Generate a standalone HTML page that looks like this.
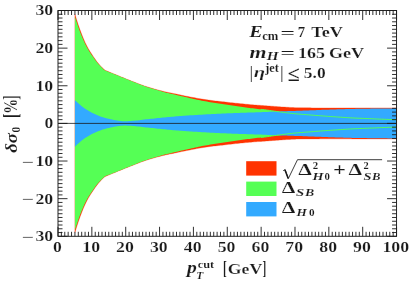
<!DOCTYPE html>
<html><head><meta charset="utf-8"><title>plot</title><style>html,body{margin:0;padding:0;background:#fff}svg{display:block;will-change:transform}</style></head><body>
<svg width="415" height="284" viewBox="0 0 415 284">
<rect width="415" height="284" fill="#fff"/>
<path d="M74.93 14.26 L76.62 19.81 L78.31 25.01 L80.01 29.86 L81.70 34.37 L83.39 38.54 L85.08 42.38 L86.78 45.87 L88.47 48.94 L90.16 51.68 L91.85 54.31 L93.55 56.88 L95.24 59.34 L96.93 61.65 L98.63 63.75 L100.32 65.67 L102.01 67.46 L103.70 69.08 L105.06 70.26 L105.40 70.40 L107.09 71.10 L108.78 71.80 L110.48 72.49 L112.17 73.19 L113.86 73.88 L115.55 74.58 L117.25 75.27 L118.94 75.96 L120.63 76.65 L122.32 77.35 L124.02 78.04 L125.71 78.73 L127.40 79.41 L129.10 80.08 L130.79 80.75 L132.48 81.41 L134.17 82.08 L135.87 82.74 L137.56 83.40 L139.25 84.05 L140.94 84.68 L142.64 85.29 L144.33 85.88 L146.02 86.44 L147.72 86.98 L149.41 87.51 L151.10 88.03 L152.79 88.53 L154.49 89.02 L156.18 89.49 L157.87 89.95 L159.56 90.40 L161.26 90.83 L162.95 91.25 L164.64 91.65 L166.34 92.03 L168.03 92.39 L169.72 92.74 L171.41 93.08 L173.11 93.42 L174.80 93.76 L176.49 94.12 L178.19 94.48 L179.88 94.84 L181.57 95.20 L183.26 95.54 L184.96 95.88 L186.65 96.22 L188.34 96.56 L190.03 96.89 L191.73 97.22 L193.42 97.55 L195.11 97.87 L196.81 98.18 L198.50 98.48 L200.19 98.77 L201.88 99.05 L203.58 99.32 L205.27 99.58 L206.96 99.82 L208.65 100.06 L210.35 100.28 L212.04 100.50 L213.73 100.71 L215.43 100.91 L217.12 101.10 L218.81 101.28 L220.50 101.47 L222.20 101.67 L223.89 101.87 L225.58 102.06 L227.28 102.26 L228.97 102.45 L230.66 102.63 L232.35 102.82 L234.05 103.00 L235.74 103.18 L237.43 103.35 L239.12 103.53 L240.82 103.70 L242.51 103.87 L244.20 104.03 L245.90 104.20 L247.59 104.35 L249.28 104.51 L250.97 104.66 L252.67 104.80 L254.36 104.94 L256.05 105.07 L257.74 105.19 L259.44 105.31 L261.13 105.42 L262.82 105.54 L264.52 105.65 L266.21 105.77 L267.90 105.90 L269.59 106.02 L271.29 106.15 L272.98 106.27 L274.67 106.39 L276.36 106.52 L278.06 106.64 L279.75 106.77 L281.44 106.89 L283.14 107.00 L284.83 107.10 L286.52 107.21 L288.21 107.31 L289.91 107.40 L291.60 107.49 L293.29 107.56 L294.99 107.63 L296.68 107.68 L298.37 107.72 L300.06 107.75 L301.76 107.78 L303.45 107.80 L305.14 107.82 L306.83 107.84 L308.53 107.85 L310.22 107.86 L311.91 107.88 L313.61 107.89 L315.30 107.90 L316.99 107.91 L318.68 107.92 L320.38 107.93 L322.07 107.93 L323.76 107.94 L325.45 107.95 L327.15 107.95 L328.84 107.95 L330.53 107.96 L332.23 107.95 L333.92 107.95 L335.61 107.95 L337.30 107.95 L339.00 107.94 L340.69 107.94 L342.38 107.93 L344.07 107.93 L345.77 107.93 L347.46 107.93 L349.15 107.93 L350.85 107.93 L352.54 107.92 L354.23 107.92 L355.92 107.92 L357.62 107.91 L359.31 107.91 L361.00 107.90 L362.69 107.89 L364.39 107.89 L366.08 107.88 L367.77 107.88 L369.47 107.88 L371.16 107.88 L372.85 107.88 L374.54 107.88 L376.24 107.88 L377.93 107.89 L379.62 107.89 L381.32 107.89 L383.01 107.89 L384.70 107.89 L386.39 107.90 L388.09 107.90 L389.78 107.89 L391.47 107.89 L393.16 107.89 L394.86 107.89 L396.55 107.88 L396.55 138.92 L394.86 138.91 L393.16 138.91 L391.47 138.91 L389.78 138.91 L388.09 138.90 L386.39 138.90 L384.70 138.91 L383.01 138.91 L381.32 138.91 L379.62 138.91 L377.93 138.91 L376.24 138.92 L374.54 138.92 L372.85 138.92 L371.16 138.92 L369.47 138.92 L367.77 138.92 L366.08 138.92 L364.39 138.91 L362.69 138.91 L361.00 138.90 L359.31 138.89 L357.62 138.89 L355.92 138.88 L354.23 138.88 L352.54 138.88 L350.85 138.87 L349.15 138.87 L347.46 138.87 L345.77 138.87 L344.07 138.87 L342.38 138.87 L340.69 138.86 L339.00 138.86 L337.30 138.85 L335.61 138.85 L333.92 138.85 L332.23 138.85 L330.53 138.84 L328.84 138.85 L327.15 138.85 L325.45 138.85 L323.76 138.86 L322.07 138.87 L320.38 138.87 L318.68 138.88 L316.99 138.89 L315.30 138.90 L313.61 138.91 L311.91 138.92 L310.22 138.94 L308.53 138.95 L306.83 138.96 L305.14 138.98 L303.45 139.00 L301.76 139.02 L300.06 139.05 L298.37 139.08 L296.68 139.12 L294.99 139.17 L293.29 139.24 L291.60 139.31 L289.91 139.40 L288.21 139.49 L286.52 139.59 L284.83 139.70 L283.14 139.80 L281.44 139.91 L279.75 140.03 L278.06 140.16 L276.36 140.28 L274.67 140.41 L272.98 140.53 L271.29 140.65 L269.59 140.78 L267.90 140.90 L266.21 141.03 L264.52 141.15 L262.82 141.26 L261.13 141.38 L259.44 141.49 L257.74 141.61 L256.05 141.73 L254.36 141.86 L252.67 142.00 L250.97 142.14 L249.28 142.29 L247.59 142.45 L245.90 142.60 L244.20 142.77 L242.51 142.93 L240.82 143.10 L239.12 143.27 L237.43 143.45 L235.74 143.62 L234.05 143.80 L232.35 143.98 L230.66 144.17 L228.97 144.35 L227.28 144.54 L225.58 144.74 L223.89 144.93 L222.20 145.13 L220.50 145.33 L218.81 145.52 L217.12 145.70 L215.43 145.89 L213.73 146.09 L212.04 146.30 L210.35 146.52 L208.65 146.74 L206.96 146.98 L205.27 147.22 L203.58 147.48 L201.88 147.75 L200.19 148.03 L198.50 148.32 L196.81 148.62 L195.11 148.93 L193.42 149.25 L191.73 149.58 L190.03 149.91 L188.34 150.24 L186.65 150.58 L184.96 150.92 L183.26 151.26 L181.57 151.60 L179.88 151.96 L178.19 152.32 L176.49 152.68 L174.80 153.04 L173.11 153.38 L171.41 153.72 L169.72 154.06 L168.03 154.41 L166.34 154.77 L164.64 155.15 L162.95 155.55 L161.26 155.97 L159.56 156.40 L157.87 156.85 L156.18 157.31 L154.49 157.78 L152.79 158.27 L151.10 158.77 L149.41 159.29 L147.72 159.82 L146.02 160.36 L144.33 160.92 L142.64 161.51 L140.94 162.12 L139.25 162.75 L137.56 163.40 L135.87 164.06 L134.17 164.72 L132.48 165.39 L130.79 166.05 L129.10 166.72 L127.40 167.39 L125.71 168.07 L124.02 168.76 L122.32 169.45 L120.63 170.15 L118.94 170.84 L117.25 171.53 L115.55 172.22 L113.86 172.92 L112.17 173.61 L110.48 174.31 L108.78 175.00 L107.09 175.70 L105.40 176.40 L105.06 176.54 L103.70 177.72 L102.01 179.34 L100.32 181.13 L98.63 183.05 L96.93 185.15 L95.24 187.46 L93.55 189.92 L91.85 192.49 L90.16 195.12 L88.47 197.86 L86.78 200.93 L85.08 204.42 L83.39 208.26 L81.70 212.43 L80.01 216.94 L78.31 221.79 L76.62 226.99 L74.93 232.54Z" fill="#ff3300" stroke="#ff3300" stroke-width="0.3"/>
<path d="M74.93 16.77 L76.62 22.09 L78.31 27.07 L80.01 31.72 L81.70 36.04 L83.39 40.04 L85.08 43.72 L86.78 47.07 L88.47 50.00 L90.16 52.63 L91.85 55.14 L93.55 57.61 L95.24 59.98 L96.93 62.21 L98.63 64.24 L100.32 66.10 L102.01 67.83 L103.70 69.40 L105.06 70.55 L105.40 70.68 L107.09 71.33 L108.78 72.00 L110.48 72.66 L112.17 73.33 L113.86 74.00 L115.55 74.67 L117.25 75.35 L118.94 76.03 L120.63 76.72 L122.32 77.40 L124.02 78.09 L125.71 78.78 L127.40 79.47 L129.10 80.15 L130.79 80.82 L132.48 81.49 L134.17 82.17 L135.87 82.85 L137.56 83.52 L139.25 84.18 L140.94 84.83 L142.64 85.47 L144.33 86.08 L146.02 86.67 L147.72 87.23 L149.41 87.78 L151.10 88.32 L152.79 88.85 L154.49 89.37 L156.18 89.87 L157.87 90.37 L159.56 90.85 L161.26 91.32 L162.95 91.78 L164.64 92.22 L166.34 92.63 L168.03 93.03 L169.72 93.42 L171.41 93.81 L173.11 94.19 L174.80 94.58 L176.49 94.98 L178.19 95.39 L179.88 95.80 L181.57 96.20 L183.26 96.59 L184.96 96.98 L186.65 97.37 L188.34 97.75 L190.03 98.14 L191.73 98.52 L193.42 98.90 L195.11 99.27 L196.81 99.64 L198.50 99.99 L200.19 100.34 L201.88 100.68 L203.58 101.01 L205.27 101.32 L206.96 101.62 L208.65 101.92 L210.35 102.20 L212.04 102.48 L213.73 102.75 L215.43 103.01 L217.12 103.26 L218.81 103.50 L220.50 103.75 L222.20 104.01 L223.89 104.28 L225.58 104.53 L227.28 104.79 L228.97 105.05 L230.66 105.30 L232.35 105.55 L234.05 105.80 L235.74 106.04 L237.43 106.28 L239.12 106.52 L240.82 106.76 L242.51 107.00 L244.20 107.23 L245.90 107.47 L247.59 107.70 L249.28 107.92 L250.97 108.14 L252.67 108.36 L254.36 108.58 L256.05 108.78 L257.74 108.98 L259.44 109.17 L261.13 109.36 L262.82 109.55 L264.52 109.76 L266.21 109.97 L267.90 110.21 L269.59 110.46 L271.29 110.71 L272.98 110.96 L274.67 111.21 L276.36 111.44 L278.06 111.67 L279.75 111.90 L281.44 112.13 L283.14 112.35 L284.83 112.56 L286.52 112.78 L288.21 112.99 L289.91 113.20 L291.60 113.40 L293.29 113.59 L294.99 113.76 L296.68 113.92 L298.37 114.06 L300.06 114.20 L301.76 114.33 L303.45 114.46 L305.14 114.59 L306.83 114.71 L308.53 114.84 L310.22 114.98 L311.91 115.11 L313.61 115.24 L315.30 115.38 L316.99 115.51 L318.68 115.64 L320.38 115.77 L322.07 115.90 L323.76 116.02 L325.45 116.15 L327.15 116.27 L328.84 116.39 L330.53 116.51 L332.23 116.63 L333.92 116.74 L335.61 116.86 L337.30 116.97 L339.00 117.08 L340.69 117.20 L342.38 117.31 L344.07 117.43 L345.77 117.54 L347.46 117.65 L349.15 117.76 L350.85 117.86 L352.54 117.95 L354.23 118.04 L355.92 118.12 L357.62 118.19 L359.31 118.25 L361.00 118.31 L362.69 118.37 L364.39 118.43 L366.08 118.49 L367.77 118.56 L369.47 118.63 L371.16 118.71 L372.85 118.78 L374.54 118.86 L376.24 118.94 L377.93 119.02 L379.62 119.10 L381.32 119.17 L383.01 119.24 L384.70 119.31 L386.39 119.37 L388.09 119.43 L389.78 119.49 L391.47 119.53 L393.16 119.57 L394.86 119.61 L396.55 119.64 L396.55 127.16 L394.86 127.19 L393.16 127.23 L391.47 127.27 L389.78 127.31 L388.09 127.37 L386.39 127.43 L384.70 127.49 L383.01 127.56 L381.32 127.63 L379.62 127.70 L377.93 127.78 L376.24 127.86 L374.54 127.94 L372.85 128.02 L371.16 128.09 L369.47 128.17 L367.77 128.24 L366.08 128.31 L364.39 128.37 L362.69 128.43 L361.00 128.49 L359.31 128.55 L357.62 128.61 L355.92 128.68 L354.23 128.76 L352.54 128.85 L350.85 128.94 L349.15 129.04 L347.46 129.15 L345.77 129.26 L344.07 129.37 L342.38 129.49 L340.69 129.60 L339.00 129.72 L337.30 129.83 L335.61 129.94 L333.92 130.06 L332.23 130.17 L330.53 130.29 L328.84 130.41 L327.15 130.53 L325.45 130.65 L323.76 130.78 L322.07 130.90 L320.38 131.03 L318.68 131.16 L316.99 131.29 L315.30 131.42 L313.61 131.56 L311.91 131.69 L310.22 131.82 L308.53 131.96 L306.83 132.09 L305.14 132.21 L303.45 132.34 L301.76 132.47 L300.06 132.60 L298.37 132.74 L296.68 132.88 L294.99 133.04 L293.29 133.21 L291.60 133.40 L289.91 133.60 L288.21 133.81 L286.52 134.02 L284.83 134.24 L283.14 134.45 L281.44 134.67 L279.75 134.90 L278.06 135.13 L276.36 135.36 L274.67 135.59 L272.98 135.84 L271.29 136.09 L269.59 136.34 L267.90 136.59 L266.21 136.83 L264.52 137.04 L262.82 137.25 L261.13 137.44 L259.44 137.63 L257.74 137.82 L256.05 138.02 L254.36 138.22 L252.67 138.44 L250.97 138.66 L249.28 138.88 L247.59 139.10 L245.90 139.33 L244.20 139.57 L242.51 139.80 L240.82 140.04 L239.12 140.28 L237.43 140.52 L235.74 140.76 L234.05 141.00 L232.35 141.25 L230.66 141.50 L228.97 141.75 L227.28 142.01 L225.58 142.27 L223.89 142.52 L222.20 142.79 L220.50 143.05 L218.81 143.30 L217.12 143.54 L215.43 143.79 L213.73 144.05 L212.04 144.32 L210.35 144.60 L208.65 144.88 L206.96 145.18 L205.27 145.48 L203.58 145.79 L201.88 146.12 L200.19 146.46 L198.50 146.81 L196.81 147.16 L195.11 147.53 L193.42 147.90 L191.73 148.28 L190.03 148.66 L188.34 149.05 L186.65 149.43 L184.96 149.82 L183.26 150.21 L181.57 150.60 L179.88 151.00 L178.19 151.41 L176.49 151.82 L174.80 152.22 L173.11 152.61 L171.41 152.99 L169.72 153.38 L168.03 153.77 L166.34 154.17 L164.64 154.58 L162.95 155.02 L161.26 155.48 L159.56 155.95 L157.87 156.43 L156.18 156.93 L154.49 157.43 L152.79 157.95 L151.10 158.48 L149.41 159.02 L147.72 159.57 L146.02 160.13 L144.33 160.72 L142.64 161.33 L140.94 161.97 L139.25 162.62 L137.56 163.28 L135.87 163.95 L134.17 164.63 L132.48 165.31 L130.79 165.98 L129.10 166.65 L127.40 167.33 L125.71 168.02 L124.02 168.71 L122.32 169.40 L120.63 170.08 L118.94 170.77 L117.25 171.45 L115.55 172.13 L113.86 172.80 L112.17 173.47 L110.48 174.14 L108.78 174.80 L107.09 175.47 L105.40 176.12 L105.06 176.25 L103.70 177.40 L102.01 178.97 L100.32 180.70 L98.63 182.56 L96.93 184.59 L95.24 186.82 L93.55 189.19 L91.85 191.66 L90.16 194.17 L88.47 196.80 L86.78 199.73 L85.08 203.08 L83.39 206.76 L81.70 210.76 L80.01 215.08 L78.31 219.73 L76.62 224.71 L74.93 230.03Z" fill="#55ff55"/>
<path d="M74.93 100.14 L76.62 101.80 L78.31 103.37 L80.01 104.85 L81.70 106.23 L83.39 107.52 L85.08 108.71 L86.78 109.82 L88.47 110.84 L90.16 111.80 L91.85 112.69 L93.55 113.54 L95.24 114.34 L96.93 115.08 L98.63 115.76 L100.32 116.39 L102.01 116.97 L103.70 117.51 L105.06 117.91 L105.40 118.00 L107.09 118.45 L108.78 118.87 L110.48 119.26 L112.17 119.62 L113.86 119.96 L115.55 120.29 L117.25 120.59 L118.94 120.85 L120.63 121.02 L122.32 121.16 L124.02 121.25 L125.71 121.24 L127.40 121.15 L129.10 121.04 L130.79 120.93 L132.48 120.81 L134.17 120.69 L135.87 120.54 L137.56 120.39 L139.25 120.20 L140.94 119.97 L142.64 119.74 L144.33 119.52 L146.02 119.35 L147.72 119.19 L149.41 119.03 L151.10 118.86 L152.79 118.68 L154.49 118.50 L156.18 118.31 L157.87 118.12 L159.56 117.94 L161.26 117.76 L162.95 117.59 L164.64 117.43 L166.34 117.27 L168.03 117.11 L169.72 116.95 L171.41 116.80 L173.11 116.65 L174.80 116.50 L176.49 116.36 L178.19 116.22 L179.88 116.08 L181.57 115.95 L183.26 115.82 L184.96 115.70 L186.65 115.58 L188.34 115.47 L190.03 115.36 L191.73 115.25 L193.42 115.15 L195.11 115.05 L196.81 114.95 L198.50 114.85 L200.19 114.75 L201.88 114.65 L203.58 114.55 L205.27 114.46 L206.96 114.36 L208.65 114.27 L210.35 114.17 L212.04 114.08 L213.73 113.99 L215.43 113.91 L217.12 113.82 L218.81 113.74 L220.50 113.66 L222.20 113.58 L223.89 113.51 L225.58 113.43 L227.28 113.36 L228.97 113.29 L230.66 113.22 L232.35 113.16 L234.05 113.09 L235.74 113.03 L237.43 112.96 L239.12 112.90 L240.82 112.85 L242.51 112.79 L244.20 112.73 L245.90 112.68 L247.59 112.62 L249.28 112.57 L250.97 112.51 L252.67 112.46 L254.36 112.40 L256.05 112.34 L257.74 112.29 L259.44 112.23 L261.13 112.18 L262.82 112.12 L264.52 112.05 L266.21 111.98 L267.90 111.90 L269.59 111.81 L271.29 111.71 L272.98 111.62 L274.67 111.55 L276.36 111.48 L278.06 111.43 L279.75 111.38 L281.44 111.33 L283.14 111.28 L284.83 111.23 L286.52 111.18 L288.21 111.12 L289.91 111.07 L291.60 111.02 L293.29 110.97 L294.99 110.91 L296.68 110.86 L298.37 110.80 L300.06 110.74 L301.76 110.68 L303.45 110.62 L305.14 110.55 L306.83 110.49 L308.53 110.42 L310.22 110.35 L311.91 110.28 L313.61 110.21 L315.30 110.14 L316.99 110.07 L318.68 110.00 L320.38 109.94 L322.07 109.87 L323.76 109.81 L325.45 109.76 L327.15 109.70 L328.84 109.64 L330.53 109.58 L332.23 109.52 L333.92 109.46 L335.61 109.40 L337.30 109.34 L339.00 109.29 L340.69 109.23 L342.38 109.18 L344.07 109.13 L345.77 109.08 L347.46 109.04 L349.15 108.99 L350.85 108.95 L352.54 108.91 L354.23 108.88 L355.92 108.85 L357.62 108.82 L359.31 108.79 L361.00 108.76 L362.69 108.73 L364.39 108.70 L366.08 108.68 L367.77 108.65 L369.47 108.63 L371.16 108.60 L372.85 108.58 L374.54 108.56 L376.24 108.54 L377.93 108.52 L379.62 108.50 L381.32 108.48 L383.01 108.46 L384.70 108.44 L386.39 108.43 L388.09 108.41 L389.78 108.40 L391.47 108.38 L393.16 108.37 L394.86 108.36 L396.55 108.35 L396.55 138.45 L394.86 138.44 L393.16 138.43 L391.47 138.42 L389.78 138.40 L388.09 138.39 L386.39 138.37 L384.70 138.36 L383.01 138.34 L381.32 138.32 L379.62 138.30 L377.93 138.28 L376.24 138.26 L374.54 138.24 L372.85 138.22 L371.16 138.20 L369.47 138.17 L367.77 138.15 L366.08 138.12 L364.39 138.10 L362.69 138.07 L361.00 138.04 L359.31 138.01 L357.62 137.98 L355.92 137.95 L354.23 137.92 L352.54 137.89 L350.85 137.85 L349.15 137.81 L347.46 137.76 L345.77 137.72 L344.07 137.67 L342.38 137.62 L340.69 137.57 L339.00 137.51 L337.30 137.46 L335.61 137.40 L333.92 137.34 L332.23 137.28 L330.53 137.22 L328.84 137.16 L327.15 137.10 L325.45 137.04 L323.76 136.99 L322.07 136.93 L320.38 136.86 L318.68 136.80 L316.99 136.73 L315.30 136.66 L313.61 136.59 L311.91 136.52 L310.22 136.45 L308.53 136.38 L306.83 136.31 L305.14 136.25 L303.45 136.18 L301.76 136.12 L300.06 136.06 L298.37 136.00 L296.68 135.94 L294.99 135.89 L293.29 135.83 L291.60 135.78 L289.91 135.73 L288.21 135.68 L286.52 135.62 L284.83 135.57 L283.14 135.52 L281.44 135.47 L279.75 135.42 L278.06 135.37 L276.36 135.32 L274.67 135.25 L272.98 135.18 L271.29 135.09 L269.59 134.99 L267.90 134.90 L266.21 134.82 L264.52 134.75 L262.82 134.68 L261.13 134.62 L259.44 134.57 L257.74 134.51 L256.05 134.46 L254.36 134.40 L252.67 134.34 L250.97 134.29 L249.28 134.23 L247.59 134.18 L245.90 134.12 L244.20 134.07 L242.51 134.01 L240.82 133.95 L239.12 133.90 L237.43 133.84 L235.74 133.77 L234.05 133.71 L232.35 133.64 L230.66 133.58 L228.97 133.51 L227.28 133.44 L225.58 133.37 L223.89 133.29 L222.20 133.22 L220.50 133.14 L218.81 133.06 L217.12 132.98 L215.43 132.89 L213.73 132.81 L212.04 132.72 L210.35 132.63 L208.65 132.53 L206.96 132.44 L205.27 132.34 L203.58 132.25 L201.88 132.15 L200.19 132.05 L198.50 131.95 L196.81 131.85 L195.11 131.75 L193.42 131.65 L191.73 131.55 L190.03 131.44 L188.34 131.33 L186.65 131.22 L184.96 131.10 L183.26 130.98 L181.57 130.85 L179.88 130.72 L178.19 130.58 L176.49 130.44 L174.80 130.30 L173.11 130.15 L171.41 130.00 L169.72 129.85 L168.03 129.69 L166.34 129.53 L164.64 129.37 L162.95 129.21 L161.26 129.04 L159.56 128.86 L157.87 128.68 L156.18 128.49 L154.49 128.30 L152.79 128.12 L151.10 127.94 L149.41 127.77 L147.72 127.61 L146.02 127.45 L144.33 127.28 L142.64 127.06 L140.94 126.83 L139.25 126.60 L137.56 126.41 L135.87 126.26 L134.17 126.11 L132.48 125.99 L130.79 125.87 L129.10 125.76 L127.40 125.65 L125.71 125.56 L124.02 125.55 L122.32 125.64 L120.63 125.78 L118.94 125.95 L117.25 126.21 L115.55 126.51 L113.86 126.84 L112.17 127.18 L110.48 127.54 L108.78 127.93 L107.09 128.35 L105.40 128.80 L105.06 128.89 L103.70 129.29 L102.01 129.83 L100.32 130.41 L98.63 131.04 L96.93 131.72 L95.24 132.46 L93.55 133.26 L91.85 134.11 L90.16 135.00 L88.47 135.96 L86.78 136.98 L85.08 138.09 L83.39 139.28 L81.70 140.57 L80.01 141.95 L78.31 143.43 L76.62 145.00 L74.93 146.66Z" fill="#33aaff"/>
<path d="M261.13 109.36 L262.82 109.55 L264.52 109.76 L266.21 109.97 L267.90 110.21 L269.59 110.46 L271.29 110.71 L272.98 110.96 L274.67 111.21 L276.36 111.44 L278.06 111.67 L279.75 111.90 L281.44 112.13 L283.14 112.35 L284.83 112.56 L286.52 112.78 L288.21 112.99 L289.91 113.20 L291.60 113.40 L293.29 113.59 L294.99 113.76 L296.68 113.92 L298.37 114.06 L300.06 114.20 L301.76 114.33 L303.45 114.46 L305.14 114.59 L306.83 114.71 L308.53 114.84 L310.22 114.98 L311.91 115.11 L313.61 115.24 L315.30 115.38 L316.99 115.51 L318.68 115.64 L320.38 115.77 L322.07 115.90 L323.76 116.02 L325.45 116.15 L327.15 116.27 L328.84 116.39 L330.53 116.51 L332.23 116.63 L333.92 116.74 L335.61 116.86 L337.30 116.97 L339.00 117.08 L340.69 117.20 L342.38 117.31 L344.07 117.43 L345.77 117.54 L347.46 117.65 L349.15 117.76 L350.85 117.86 L352.54 117.95 L354.23 118.04 L355.92 118.12 L357.62 118.19 L359.31 118.25 L361.00 118.31 L362.69 118.37 L364.39 118.43 L366.08 118.49 L367.77 118.56 L369.47 118.63 L371.16 118.71 L372.85 118.78 L374.54 118.86 L376.24 118.94 L377.93 119.02 L379.62 119.10 L381.32 119.17 L383.01 119.24 L384.70 119.31 L386.39 119.37 L388.09 119.43 L389.78 119.49 L391.47 119.53 L393.16 119.57 L394.86 119.61 L396.55 119.64" fill="none" stroke="#55ff55" stroke-width="1.0"/>
<path d="M261.13 137.44 L262.82 137.25 L264.52 137.04 L266.21 136.83 L267.90 136.59 L269.59 136.34 L271.29 136.09 L272.98 135.84 L274.67 135.59 L276.36 135.36 L278.06 135.13 L279.75 134.90 L281.44 134.67 L283.14 134.45 L284.83 134.24 L286.52 134.02 L288.21 133.81 L289.91 133.60 L291.60 133.40 L293.29 133.21 L294.99 133.04 L296.68 132.88 L298.37 132.74 L300.06 132.60 L301.76 132.47 L303.45 132.34 L305.14 132.21 L306.83 132.09 L308.53 131.96 L310.22 131.82 L311.91 131.69 L313.61 131.56 L315.30 131.42 L316.99 131.29 L318.68 131.16 L320.38 131.03 L322.07 130.90 L323.76 130.78 L325.45 130.65 L327.15 130.53 L328.84 130.41 L330.53 130.29 L332.23 130.17 L333.92 130.06 L335.61 129.94 L337.30 129.83 L339.00 129.72 L340.69 129.60 L342.38 129.49 L344.07 129.37 L345.77 129.26 L347.46 129.15 L349.15 129.04 L350.85 128.94 L352.54 128.85 L354.23 128.76 L355.92 128.68 L357.62 128.61 L359.31 128.55 L361.00 128.49 L362.69 128.43 L364.39 128.37 L366.08 128.31 L367.77 128.24 L369.47 128.17 L371.16 128.09 L372.85 128.02 L374.54 127.94 L376.24 127.86 L377.93 127.78 L379.62 127.70 L381.32 127.63 L383.01 127.56 L384.70 127.49 L386.39 127.43 L388.09 127.37 L389.78 127.31 L391.47 127.27 L393.16 127.23 L394.86 127.19 L396.55 127.16" fill="none" stroke="#55ff55" stroke-width="1.0"/>
<path d="M58.0 123.40H396.55" stroke="#1a1a1a" stroke-width="0.8"/>
<path d="M58.00 236.3v-9.5M58.00 10.5v9.5M61.39 236.3v-4.5M61.39 10.5v4.5M64.77 236.3v-4.5M64.77 10.5v4.5M68.16 236.3v-4.5M68.16 10.5v4.5M71.54 236.3v-4.5M71.54 10.5v4.5M74.93 236.3v-4.5M74.93 10.5v4.5M78.31 236.3v-4.5M78.31 10.5v4.5M81.70 236.3v-4.5M81.70 10.5v4.5M85.08 236.3v-4.5M85.08 10.5v4.5M88.47 236.3v-4.5M88.47 10.5v4.5M91.85 236.3v-9.5M91.85 10.5v9.5M95.24 236.3v-4.5M95.24 10.5v4.5M98.63 236.3v-4.5M98.63 10.5v4.5M102.01 236.3v-4.5M102.01 10.5v4.5M105.40 236.3v-4.5M105.40 10.5v4.5M108.78 236.3v-4.5M108.78 10.5v4.5M112.17 236.3v-4.5M112.17 10.5v4.5M115.55 236.3v-4.5M115.55 10.5v4.5M118.94 236.3v-4.5M118.94 10.5v4.5M122.32 236.3v-4.5M122.32 10.5v4.5M125.71 236.3v-9.5M125.71 10.5v9.5M129.10 236.3v-4.5M129.10 10.5v4.5M132.48 236.3v-4.5M132.48 10.5v4.5M135.87 236.3v-4.5M135.87 10.5v4.5M139.25 236.3v-4.5M139.25 10.5v4.5M142.64 236.3v-4.5M142.64 10.5v4.5M146.02 236.3v-4.5M146.02 10.5v4.5M149.41 236.3v-4.5M149.41 10.5v4.5M152.79 236.3v-4.5M152.79 10.5v4.5M156.18 236.3v-4.5M156.18 10.5v4.5M159.56 236.3v-9.5M159.56 10.5v9.5M162.95 236.3v-4.5M162.95 10.5v4.5M166.34 236.3v-4.5M166.34 10.5v4.5M169.72 236.3v-4.5M169.72 10.5v4.5M173.11 236.3v-4.5M173.11 10.5v4.5M176.49 236.3v-4.5M176.49 10.5v4.5M179.88 236.3v-4.5M179.88 10.5v4.5M183.26 236.3v-4.5M183.26 10.5v4.5M186.65 236.3v-4.5M186.65 10.5v4.5M190.03 236.3v-4.5M190.03 10.5v4.5M193.42 236.3v-9.5M193.42 10.5v9.5M196.81 236.3v-4.5M196.81 10.5v4.5M200.19 236.3v-4.5M200.19 10.5v4.5M203.58 236.3v-4.5M203.58 10.5v4.5M206.96 236.3v-4.5M206.96 10.5v4.5M210.35 236.3v-4.5M210.35 10.5v4.5M213.73 236.3v-4.5M213.73 10.5v4.5M217.12 236.3v-4.5M217.12 10.5v4.5M220.50 236.3v-4.5M220.50 10.5v4.5M223.89 236.3v-4.5M223.89 10.5v4.5M227.28 236.3v-9.5M227.28 10.5v9.5M230.66 236.3v-4.5M230.66 10.5v4.5M234.05 236.3v-4.5M234.05 10.5v4.5M237.43 236.3v-4.5M237.43 10.5v4.5M240.82 236.3v-4.5M240.82 10.5v4.5M244.20 236.3v-4.5M244.20 10.5v4.5M247.59 236.3v-4.5M247.59 10.5v4.5M250.97 236.3v-4.5M250.97 10.5v4.5M254.36 236.3v-4.5M254.36 10.5v4.5M257.74 236.3v-4.5M257.74 10.5v4.5M261.13 236.3v-9.5M261.13 10.5v9.5M264.52 236.3v-4.5M264.52 10.5v4.5M267.90 236.3v-4.5M267.90 10.5v4.5M271.29 236.3v-4.5M271.29 10.5v4.5M274.67 236.3v-4.5M274.67 10.5v4.5M278.06 236.3v-4.5M278.06 10.5v4.5M281.44 236.3v-4.5M281.44 10.5v4.5M284.83 236.3v-4.5M284.83 10.5v4.5M288.21 236.3v-4.5M288.21 10.5v4.5M291.60 236.3v-4.5M291.60 10.5v4.5M294.99 236.3v-9.5M294.99 10.5v9.5M298.37 236.3v-4.5M298.37 10.5v4.5M301.76 236.3v-4.5M301.76 10.5v4.5M305.14 236.3v-4.5M305.14 10.5v4.5M308.53 236.3v-4.5M308.53 10.5v4.5M311.91 236.3v-4.5M311.91 10.5v4.5M315.30 236.3v-4.5M315.30 10.5v4.5M318.68 236.3v-4.5M318.68 10.5v4.5M322.07 236.3v-4.5M322.07 10.5v4.5M325.45 236.3v-4.5M325.45 10.5v4.5M328.84 236.3v-9.5M328.84 10.5v9.5M332.23 236.3v-4.5M332.23 10.5v4.5M335.61 236.3v-4.5M335.61 10.5v4.5M339.00 236.3v-4.5M339.00 10.5v4.5M342.38 236.3v-4.5M342.38 10.5v4.5M345.77 236.3v-4.5M345.77 10.5v4.5M349.15 236.3v-4.5M349.15 10.5v4.5M352.54 236.3v-4.5M352.54 10.5v4.5M355.92 236.3v-4.5M355.92 10.5v4.5M359.31 236.3v-4.5M359.31 10.5v4.5M362.69 236.3v-9.5M362.69 10.5v9.5M366.08 236.3v-4.5M366.08 10.5v4.5M369.47 236.3v-4.5M369.47 10.5v4.5M372.85 236.3v-4.5M372.85 10.5v4.5M376.24 236.3v-4.5M376.24 10.5v4.5M379.62 236.3v-4.5M379.62 10.5v4.5M383.01 236.3v-4.5M383.01 10.5v4.5M386.39 236.3v-4.5M386.39 10.5v4.5M389.78 236.3v-4.5M389.78 10.5v4.5M393.16 236.3v-4.5M393.16 10.5v4.5M396.55 236.3v-9.5M396.55 10.5v9.5M58.0 236.30h9.5M396.55 236.30h-9.5M58.0 232.54h4.5M396.55 232.54h-4.5M58.0 228.77h4.5M396.55 228.77h-4.5M58.0 225.01h4.5M396.55 225.01h-4.5M58.0 221.25h4.5M396.55 221.25h-4.5M58.0 217.48h4.5M396.55 217.48h-4.5M58.0 213.72h4.5M396.55 213.72h-4.5M58.0 209.96h4.5M396.55 209.96h-4.5M58.0 206.19h4.5M396.55 206.19h-4.5M58.0 202.43h4.5M396.55 202.43h-4.5M58.0 198.67h9.5M396.55 198.67h-9.5M58.0 194.90h4.5M396.55 194.90h-4.5M58.0 191.14h4.5M396.55 191.14h-4.5M58.0 187.38h4.5M396.55 187.38h-4.5M58.0 183.61h4.5M396.55 183.61h-4.5M58.0 179.85h4.5M396.55 179.85h-4.5M58.0 176.09h4.5M396.55 176.09h-4.5M58.0 172.32h4.5M396.55 172.32h-4.5M58.0 168.56h4.5M396.55 168.56h-4.5M58.0 164.80h4.5M396.55 164.80h-4.5M58.0 161.03h9.5M396.55 161.03h-9.5M58.0 157.27h4.5M396.55 157.27h-4.5M58.0 153.51h4.5M396.55 153.51h-4.5M58.0 149.74h4.5M396.55 149.74h-4.5M58.0 145.98h4.5M396.55 145.98h-4.5M58.0 142.22h4.5M396.55 142.22h-4.5M58.0 138.45h4.5M396.55 138.45h-4.5M58.0 134.69h4.5M396.55 134.69h-4.5M58.0 130.93h4.5M396.55 130.93h-4.5M58.0 127.16h4.5M396.55 127.16h-4.5M58.0 123.40h9.5M396.55 123.40h-9.5M58.0 119.64h4.5M396.55 119.64h-4.5M58.0 115.87h4.5M396.55 115.87h-4.5M58.0 112.11h4.5M396.55 112.11h-4.5M58.0 108.35h4.5M396.55 108.35h-4.5M58.0 104.58h4.5M396.55 104.58h-4.5M58.0 100.82h4.5M396.55 100.82h-4.5M58.0 97.06h4.5M396.55 97.06h-4.5M58.0 93.29h4.5M396.55 93.29h-4.5M58.0 89.53h4.5M396.55 89.53h-4.5M58.0 85.77h9.5M396.55 85.77h-9.5M58.0 82.00h4.5M396.55 82.00h-4.5M58.0 78.24h4.5M396.55 78.24h-4.5M58.0 74.48h4.5M396.55 74.48h-4.5M58.0 70.71h4.5M396.55 70.71h-4.5M58.0 66.95h4.5M396.55 66.95h-4.5M58.0 63.19h4.5M396.55 63.19h-4.5M58.0 59.42h4.5M396.55 59.42h-4.5M58.0 55.66h4.5M396.55 55.66h-4.5M58.0 51.90h4.5M396.55 51.90h-4.5M58.0 48.13h9.5M396.55 48.13h-9.5M58.0 44.37h4.5M396.55 44.37h-4.5M58.0 40.61h4.5M396.55 40.61h-4.5M58.0 36.84h4.5M396.55 36.84h-4.5M58.0 33.08h4.5M396.55 33.08h-4.5M58.0 29.32h4.5M396.55 29.32h-4.5M58.0 25.55h4.5M396.55 25.55h-4.5M58.0 21.79h4.5M396.55 21.79h-4.5M58.0 18.03h4.5M396.55 18.03h-4.5M58.0 14.26h4.5M396.55 14.26h-4.5M58.0 10.50h9.5M396.55 10.50h-9.5" stroke="#1a1a1a" stroke-width="0.9" fill="none"/>
<rect x="58.0" y="10.5" width="338.55" height="225.8" fill="none" stroke="#1a1a1a" stroke-width="0.95"/>
<g font-family="'Liberation Serif', serif" font-weight="bold" fill="#1a1a1a" stroke="#fff" stroke-width="0.18">
<text x="57.30" y="251.8" font-size="14.6" text-anchor="middle" textLength="8.8" lengthAdjust="spacingAndGlyphs">0</text>
<text x="91.15" y="251.8" font-size="14.6" text-anchor="middle" textLength="17.8" lengthAdjust="spacingAndGlyphs">10</text>
<text x="125.01" y="251.8" font-size="14.6" text-anchor="middle" textLength="17.8" lengthAdjust="spacingAndGlyphs">20</text>
<text x="158.87" y="251.8" font-size="14.6" text-anchor="middle" textLength="17.8" lengthAdjust="spacingAndGlyphs">30</text>
<text x="192.72" y="251.8" font-size="14.6" text-anchor="middle" textLength="17.8" lengthAdjust="spacingAndGlyphs">40</text>
<text x="226.58" y="251.8" font-size="14.6" text-anchor="middle" textLength="17.8" lengthAdjust="spacingAndGlyphs">50</text>
<text x="260.43" y="251.8" font-size="14.6" text-anchor="middle" textLength="17.8" lengthAdjust="spacingAndGlyphs">60</text>
<text x="294.29" y="251.8" font-size="14.6" text-anchor="middle" textLength="17.8" lengthAdjust="spacingAndGlyphs">70</text>
<text x="328.14" y="251.8" font-size="14.6" text-anchor="middle" textLength="17.8" lengthAdjust="spacingAndGlyphs">80</text>
<text x="362.00" y="251.8" font-size="14.6" text-anchor="middle" textLength="17.8" lengthAdjust="spacingAndGlyphs">90</text>
<text x="395.85" y="251.8" font-size="14.6" text-anchor="middle" textLength="26.8" lengthAdjust="spacingAndGlyphs">100</text>
<text x="53.2" y="241.20" font-size="14.6" text-anchor="end" textLength="17.8" lengthAdjust="spacingAndGlyphs">30</text>
<text x="21.4" y="241.90" font-size="14.6" textLength="12.4" lengthAdjust="spacingAndGlyphs">−</text>
<text x="53.2" y="203.57" font-size="14.6" text-anchor="end" textLength="17.8" lengthAdjust="spacingAndGlyphs">20</text>
<text x="21.4" y="204.27" font-size="14.6" textLength="12.4" lengthAdjust="spacingAndGlyphs">−</text>
<text x="53.2" y="165.93" font-size="14.6" text-anchor="end" textLength="17.8" lengthAdjust="spacingAndGlyphs">10</text>
<text x="21.4" y="166.63" font-size="14.6" textLength="12.4" lengthAdjust="spacingAndGlyphs">−</text>
<text x="53.2" y="128.30" font-size="14.6" text-anchor="end" textLength="8.8" lengthAdjust="spacingAndGlyphs">0</text>
<text x="53.2" y="90.67" font-size="14.6" text-anchor="end" textLength="17.8" lengthAdjust="spacingAndGlyphs">10</text>
<text x="53.2" y="53.03" font-size="14.6" text-anchor="end" textLength="17.8" lengthAdjust="spacingAndGlyphs">20</text>
<text x="53.2" y="15.40" font-size="14.6" text-anchor="end" textLength="17.8" lengthAdjust="spacingAndGlyphs">30</text>
<text x="186.9" y="273.4" font-size="16" font-style="italic" stroke-width="0.1" textLength="9.8" lengthAdjust="spacingAndGlyphs">p</text>
<text x="196.2" y="278.6" font-size="10.5" font-style="italic" stroke-width="0.1" textLength="7.0" lengthAdjust="spacingAndGlyphs">T</text>
<text x="197.8" y="268.0" font-size="10.5" stroke-width="0.1" textLength="16.4" lengthAdjust="spacingAndGlyphs">cut</text>
<text x="222.9" y="274.1" font-size="18.5" textLength="3.8" lengthAdjust="spacingAndGlyphs">[</text>
<text x="227.8" y="273.7" font-size="15.5" textLength="34.4" lengthAdjust="spacingAndGlyphs">GeV</text>
<text x="262.5" y="274.1" font-size="18.5" textLength="3.8" lengthAdjust="spacingAndGlyphs">]</text>
<g transform="translate(17.0 152.8) rotate(-90)">
<text x="0" y="0" font-size="16" font-style="italic" stroke-width="0.1" textLength="19.6" lengthAdjust="spacingAndGlyphs">δσ</text>
<text x="20.4" y="2.6" font-size="11.5" stroke-width="0.1" textLength="5.8" lengthAdjust="spacingAndGlyphs">0</text>
<text x="34.9" y="0.5" font-size="20.4" textLength="4.6" lengthAdjust="spacingAndGlyphs">[</text>
<text x="39.0" y="0.3" font-size="19.5" textLength="14.8" lengthAdjust="spacingAndGlyphs">%</text>
<text x="53.0" y="0.5" font-size="20.4" textLength="4.6" lengthAdjust="spacingAndGlyphs">]</text>
</g>
<text x="249.2" y="36.7" font-size="16.6" font-style="italic" stroke-width="0.1" textLength="13.4" lengthAdjust="spacingAndGlyphs">E</text>
<text x="262.2" y="39.5" font-size="11.6" stroke-width="0.1" textLength="16.2" lengthAdjust="spacingAndGlyphs">cm</text>
<text x="280.2" y="38.0" font-size="15.5" textLength="15.0" lengthAdjust="spacingAndGlyphs">=</text>
<text x="297.7" y="36.7" font-size="15" textLength="7.4" lengthAdjust="spacingAndGlyphs">7</text>
<text x="311.3" y="36.6" font-size="15.5" textLength="31.6" lengthAdjust="spacingAndGlyphs">TeV</text>
<text x="249.5" y="57.6" font-size="16" font-style="italic" stroke-width="0.1" textLength="17.0" lengthAdjust="spacingAndGlyphs">m</text>
<text x="266.8" y="59.6" font-size="12.2" font-style="italic" stroke-width="0.1" textLength="11.8" lengthAdjust="spacingAndGlyphs">H</text>
<text x="280.2" y="58.0" font-size="15.5" textLength="15.0" lengthAdjust="spacingAndGlyphs">=</text>
<text x="298.0" y="57.6" font-size="15" textLength="27.0" lengthAdjust="spacingAndGlyphs">165</text>
<text x="329.0" y="57.6" font-size="15.5" textLength="35.2" lengthAdjust="spacingAndGlyphs">GeV</text>
<text x="249.7" y="77.8" font-size="17.3" textLength="3.2" lengthAdjust="spacingAndGlyphs">|</text>
<text x="253.8" y="77.4" font-size="15.5" font-style="italic" textLength="11.4" lengthAdjust="spacingAndGlyphs" stroke="#fff" stroke-width="0.25">η</text>
<text x="265.2" y="72.0" font-size="11.5" stroke-width="0.1" textLength="13.6" lengthAdjust="spacingAndGlyphs">jet</text>
<text x="280.3" y="77.8" font-size="17.3" textLength="3.2" lengthAdjust="spacingAndGlyphs">|</text>
<text x="287.6" y="80.6" font-size="21" textLength="12.4" lengthAdjust="spacingAndGlyphs">≤</text>
<text x="303.8" y="78.0" font-size="15" textLength="21.8" lengthAdjust="spacingAndGlyphs">5.0</text>
<rect x="246.2" y="161.2" width="30.3" height="14.4" fill="#ff3300" stroke="none"/>
<rect x="246.2" y="181.6" width="30.3" height="14.4" fill="#55ff55" stroke="none"/>
<rect x="246.2" y="202.0" width="30.3" height="14.4" fill="#33aaff" stroke="none"/>
<path d="M283.2 170.7l1.9 -1.1 3.2 9.0 9.2 -18.9h84.6" fill="none" stroke="#1a1a1a" stroke-width="0.85" stroke-linejoin="miter"/>
<path d="M284.9 169.8l3.3 8.6" fill="none" stroke="#1a1a1a" stroke-width="1.5"/>
<text x="298.3" y="174.5" font-size="16" textLength="13.6" lengthAdjust="spacingAndGlyphs">Δ</text>
<text x="312.8" y="168.6" font-size="10.5" stroke-width="0.1" textLength="5.4" lengthAdjust="spacingAndGlyphs">2</text>
<text x="312.5" y="179.5" font-size="10.8" font-style="italic" stroke-width="0.1" textLength="11.0" lengthAdjust="spacingAndGlyphs">H</text>
<text x="324.6" y="179.5" font-size="10.5" stroke-width="0.1" textLength="5.4" lengthAdjust="spacingAndGlyphs">0</text>
<text x="333.0" y="176.2" font-size="19" textLength="13.0" lengthAdjust="spacingAndGlyphs">+</text>
<text x="348.59999999999997" y="174.5" font-size="16" textLength="13.6" lengthAdjust="spacingAndGlyphs">Δ</text>
<text x="363.4" y="168.6" font-size="10.5" stroke-width="0.1" textLength="5.2" lengthAdjust="spacingAndGlyphs">2</text>
<text x="363.4" y="179.5" font-size="10.5" font-style="italic" stroke-width="0.1" textLength="8.0" lengthAdjust="spacingAndGlyphs">S</text>
<text x="371.9" y="179.5" font-size="10.5" font-style="italic" stroke-width="0.1" textLength="8.5" lengthAdjust="spacingAndGlyphs">B</text>
<text x="281.7" y="192.8" font-size="16" textLength="13.6" lengthAdjust="spacingAndGlyphs">Δ</text>
<text x="296.0" y="195.9" font-size="10.5" font-style="italic" stroke-width="0.1" textLength="8.2" lengthAdjust="spacingAndGlyphs">S</text>
<text x="304.9" y="195.9" font-size="10.5" font-style="italic" stroke-width="0.1" textLength="9.2" lengthAdjust="spacingAndGlyphs">B</text>
<text x="281.7" y="213.2" font-size="16" textLength="13.6" lengthAdjust="spacingAndGlyphs">Δ</text>
<text x="296.5" y="216.0" font-size="10.5" font-style="italic" stroke-width="0.1" textLength="10.3" lengthAdjust="spacingAndGlyphs">H</text>
<text x="309.0" y="216.0" font-size="10.5" stroke-width="0.1" textLength="5.6" lengthAdjust="spacingAndGlyphs">0</text>
</g></svg>
</body></html>
